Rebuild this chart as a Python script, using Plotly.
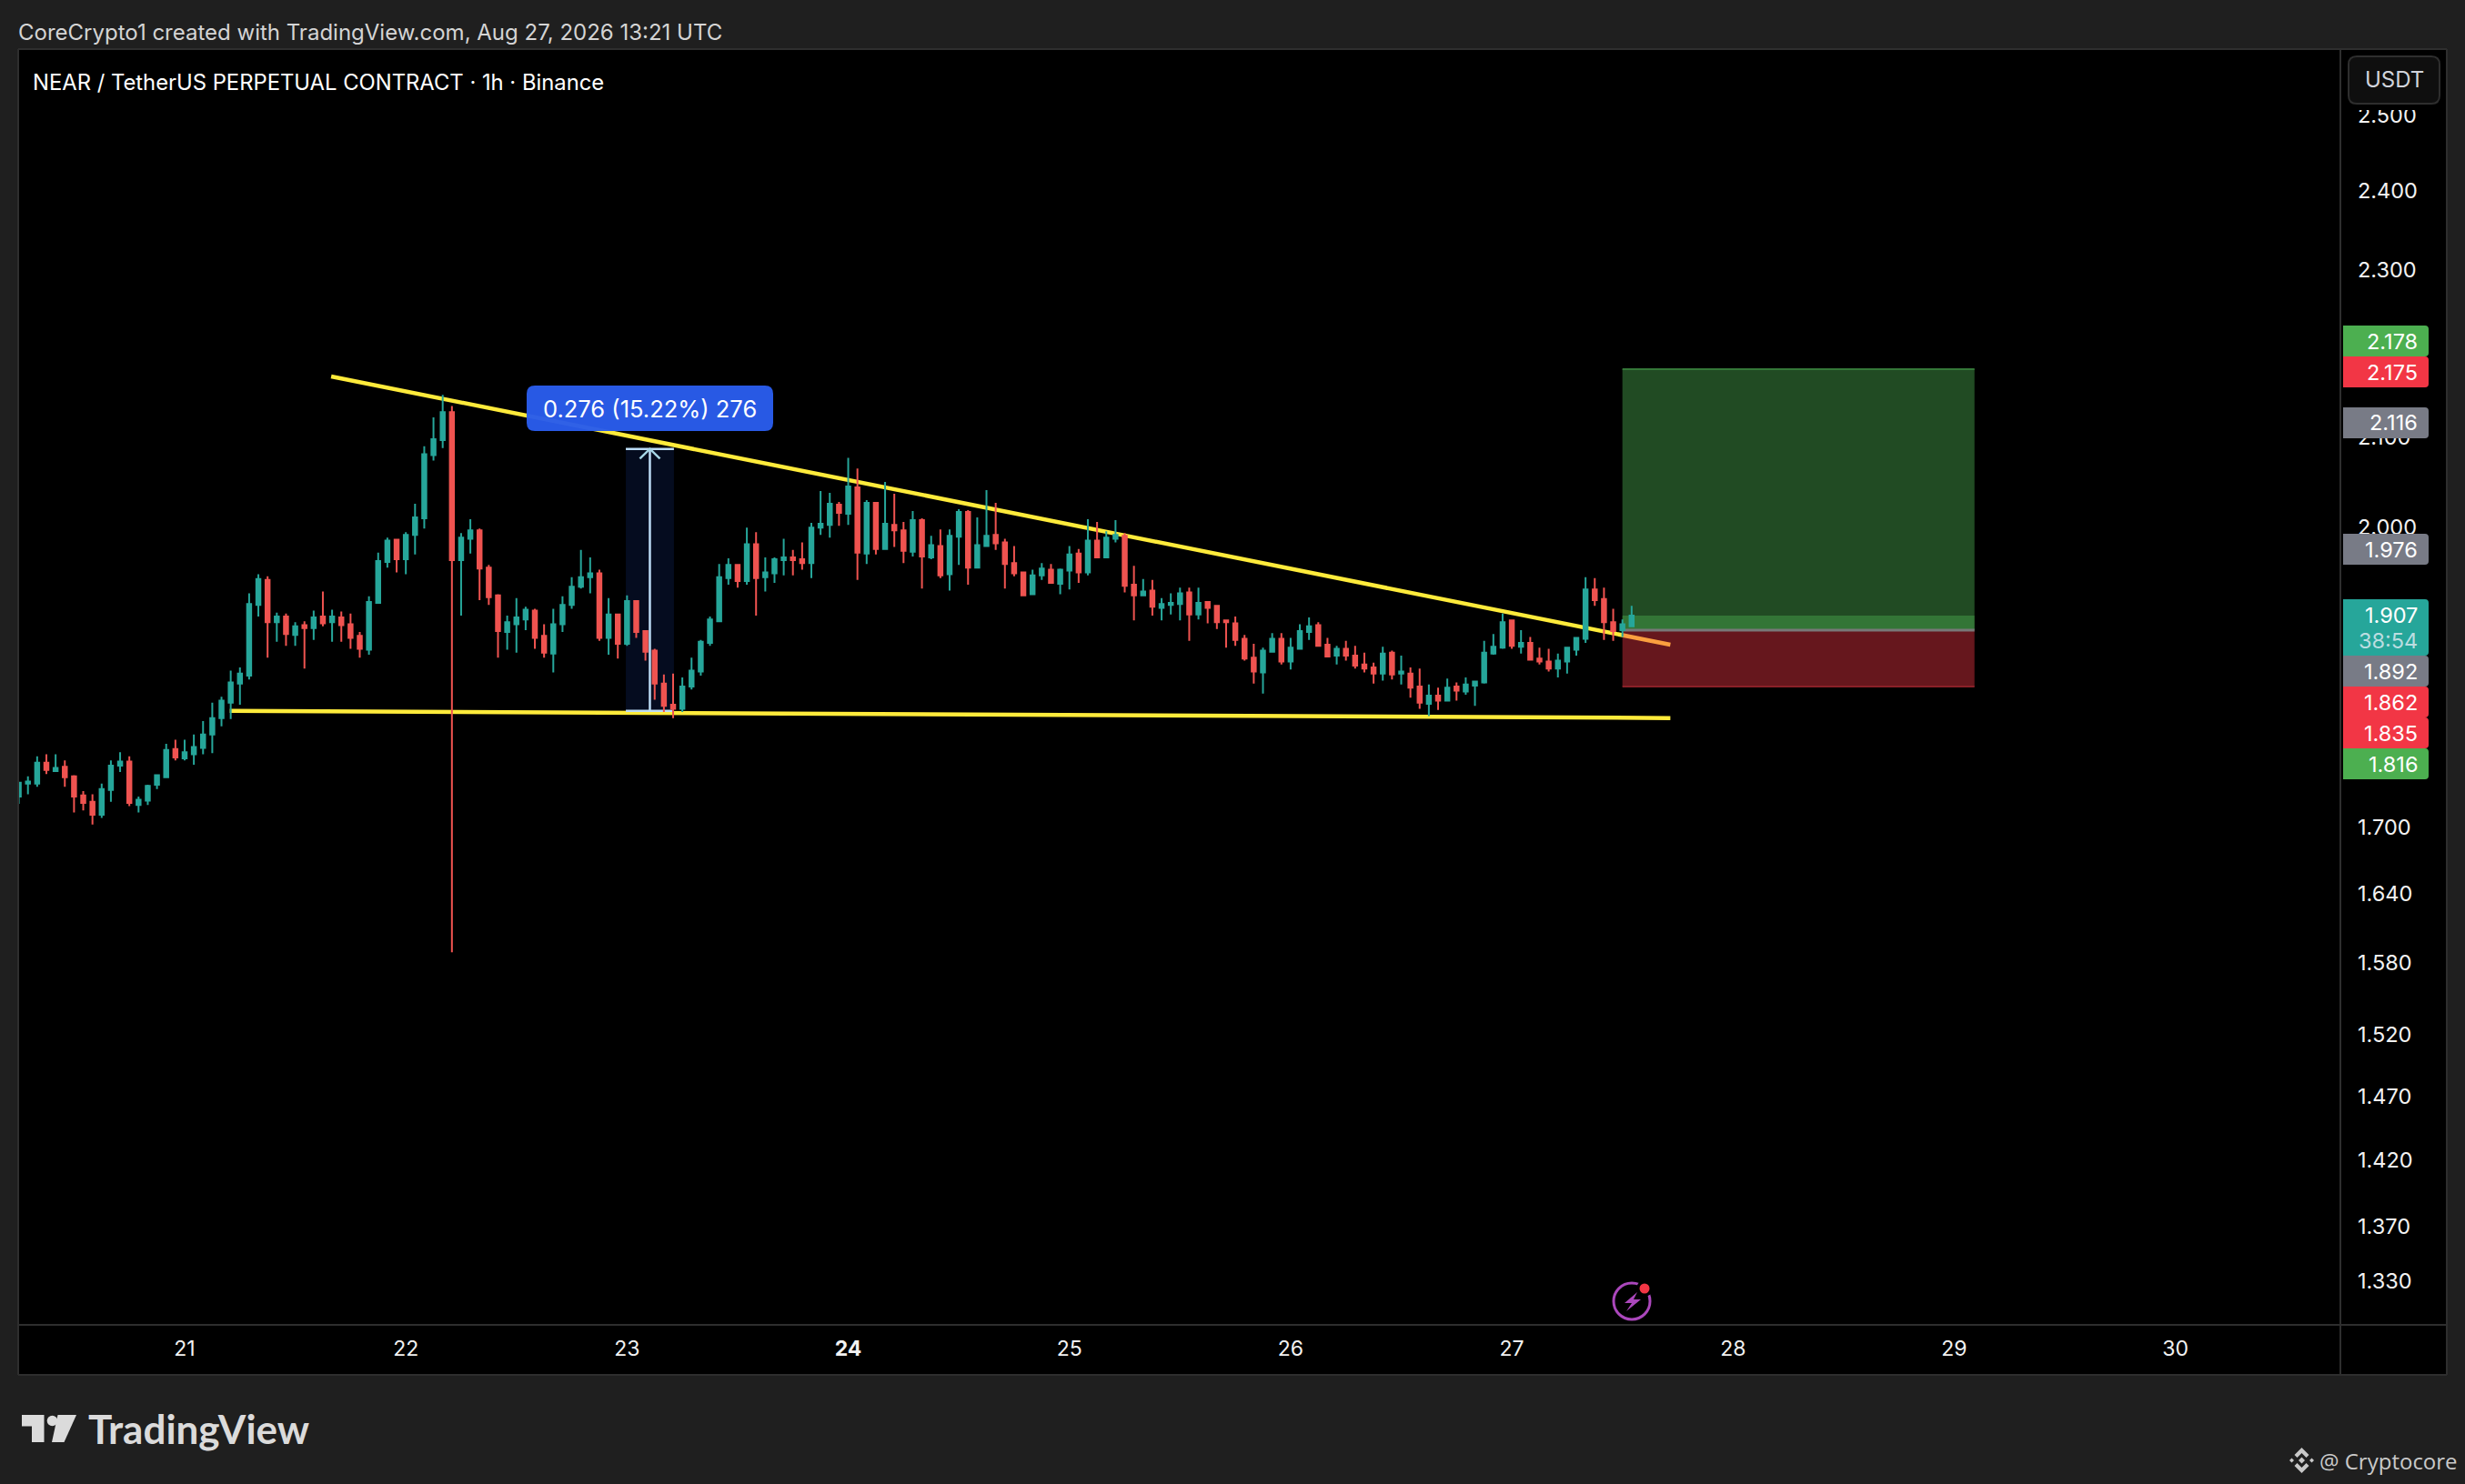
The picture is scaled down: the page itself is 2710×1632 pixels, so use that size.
import math
import pandas as pd
import plotly.graph_objects as go

W, H = 2710, 1632
L, R, T, B = 21, 2573, 55, 1456

# --- chart values -----------------------------------------------------------
FIRST_HOUR = -18   # hours relative to Aug 21 00:00
opens = [1.729,1.741,1.741,1.761,1.753,1.757,1.748,1.730,1.724,1.712,1.735,1.758,1.762,1.721,1.725,1.740,1.747,1.774,
 1.765,1.769,1.775,1.788,1.804,1.819,1.838,1.846,1.918,1.944,1.900,1.906,1.887,1.897,1.894,1.906,1.900,1.905,1.898,1.886,1.872,1.920,1.963,1.987,1.966,1.992,2.010,2.080,2.097,2.129,
 1.965,1.988,1.997,1.957,1.928,1.890,1.898,1.903,1.912,1.886,1.868,1.898,1.918,1.937,1.947,1.951,1.884,1.908,1.878,
 1.922,1.891,1.871,1.838,1.817,1.813,1.835,1.850,1.879,1.901,1.946,1.960,1.943,1.982,1.947,1.951,1.965,1.968,1.966,1.962,2.000,2.003,2.025,2.015,2.044,1.972,2.027,1.977,2.003,1.997,1.974,2.008,1.968,1.980,1.950,1.990,2.017,1.957,1.980,1.992,1.984,1.962,1.952,1.929,1.949,1.955,1.940,1.954,1.972,1.952,1.986,1.968,1.988,1.991,1.939,1.928,1.933,1.915,1.918,1.919,
 1.931,1.908,1.921,1.917,1.902,1.899,1.883,1.864,1.849,1.870,1.883,1.860,1.873,1.890,1.897,1.877,1.866,1.873,1.866,1.857,1.854,1.848,1.869,1.848,1.848,1.835,1.818,1.826,1.821,1.835,1.830,1.836,1.839,1.868,1.874,1.902,1.875,1.879,1.863,1.860,1.853,1.860,1.872,1.883,1.934,1.924,1.900,1.892,1.896]
highs = [1.742,1.748,1.767,1.769,1.769,1.763,1.749,1.734,1.731,1.741,1.763,1.771,1.767,1.729,1.740,1.749,1.779,1.783,
 1.783,1.788,1.801,1.819,1.825,1.851,1.854,1.930,1.950,1.948,1.910,1.909,1.900,1.901,1.912,1.932,1.913,1.911,1.909,1.890,1.927,1.973,1.989,1.988,1.995,2.026,2.090,2.123,2.149,2.136,
 1.994,2.009,1.999,1.960,1.929,1.907,1.925,1.916,1.914,1.898,1.914,1.927,1.947,1.976,1.968,1.955,1.925,1.909,1.928,
 1.922,1.891,1.873,1.847,1.848,1.844,1.864,1.882,1.906,1.961,1.967,1.961,2.000,1.995,1.968,1.968,1.988,1.976,1.984,2.005,2.040,2.038,2.028,2.077,2.065,2.030,2.027,2.050,2.037,2.006,2.018,2.010,1.991,1.998,1.998,2.020,2.019,2.011,2.041,2.027,1.988,1.980,1.952,1.955,1.962,1.961,1.956,1.980,1.977,2.009,2.006,1.996,2.008,1.994,1.959,1.945,1.944,1.925,1.930,1.936,
 1.936,1.936,1.922,1.917,1.903,1.906,1.887,1.878,1.874,1.889,1.889,1.884,1.898,1.905,1.900,1.884,1.876,1.881,1.876,1.869,1.859,1.875,1.871,1.866,1.854,1.853,1.837,1.834,1.843,1.839,1.844,1.841,1.881,1.888,1.909,1.902,1.892,1.885,1.874,1.873,1.868,1.875,1.885,1.947,1.946,1.936,1.914,1.903,1.917]
lows = [1.722,1.731,1.738,1.750,1.753,1.738,1.714,1.716,1.703,1.709,1.724,1.752,1.720,1.714,1.721,1.736,1.747,1.763,
 1.763,1.759,1.769,1.770,1.796,1.803,1.817,1.842,1.906,1.864,1.880,1.876,1.876,1.853,1.882,1.896,1.880,1.880,1.873,1.864,1.867,1.920,1.957,1.952,1.950,1.971,1.999,2.074,2.088,1.589,
 1.907,1.972,1.923,1.918,1.864,1.872,1.869,1.892,1.873,1.864,1.849,1.890,1.914,1.935,1.930,1.881,1.867,1.863,1.876,
 1.884,1.861,1.822,1.810,1.804,1.810,1.832,1.846,1.876,1.901,1.939,1.936,1.939,1.907,1.932,1.941,1.949,1.949,1.955,1.946,1.992,1.989,2.002,2.003,1.944,1.961,1.971,1.977,1.979,1.962,1.969,1.935,1.966,1.946,1.933,1.960,1.939,1.956,1.980,1.976,1.935,1.948,1.927,1.929,1.944,1.940,1.929,1.934,1.941,1.949,1.967,1.967,1.984,1.931,1.902,1.927,1.907,1.902,1.908,1.902,
 1.881,1.903,1.899,1.893,1.874,1.876,1.861,1.838,1.828,1.870,1.857,1.852,1.873,1.882,1.876,1.865,1.857,1.861,1.853,1.849,1.838,1.841,1.842,1.837,1.824,1.813,1.806,1.812,1.821,1.821,1.827,1.816,1.838,1.867,1.873,1.873,1.868,1.861,1.857,1.850,1.844,1.848,1.866,1.879,1.917,1.882,1.881,1.885,1.895]
closes = [1.742,1.743,1.761,1.754,1.756,1.747,1.729,1.723,1.712,1.736,1.758,1.762,1.723,1.726,1.739,1.749,1.773,1.766,
 1.771,1.776,1.788,1.804,1.821,1.839,1.848,1.919,1.945,1.900,1.906,1.888,1.896,1.894,1.905,1.899,1.906,1.897,1.884,1.873,1.921,1.964,1.986,1.966,1.992,2.011,2.081,2.098,2.129,1.965,
 1.989,1.997,1.956,1.926,1.891,1.900,1.905,1.913,1.884,1.869,1.898,1.918,1.937,1.947,1.951,1.884,1.908,1.878,1.922,
 1.890,1.870,1.838,1.816,1.813,1.835,1.851,1.880,1.903,1.947,1.960,1.943,1.982,1.946,1.952,1.966,1.968,1.965,1.962,2.000,2.004,2.026,2.016,2.045,1.973,2.027,1.977,2.004,1.997,1.975,2.008,1.969,1.981,1.949,1.991,2.017,1.957,1.981,1.991,1.983,1.961,1.951,1.928,1.949,1.956,1.941,1.955,1.971,1.952,1.986,1.968,1.989,1.992,1.938,1.928,1.932,1.916,1.919,1.920,1.930,
 1.908,1.920,1.915,1.900,1.900,1.882,1.863,1.850,1.871,1.883,1.860,1.874,1.891,1.896,1.876,1.865,1.873,1.866,1.856,1.853,1.848,1.868,1.847,1.850,1.834,1.819,1.826,1.821,1.834,1.831,1.837,1.840,1.869,1.875,1.900,1.876,1.879,1.862,1.860,1.853,1.861,1.874,1.884,1.934,1.923,1.900,1.891,1.898,1.907]

y_tick_values = [1.33,1.37,1.42,1.47,1.52,1.58,1.64,1.70,2.0,2.1,2.3,2.4,2.5]
day_tick_numbers = [21,22,23,24,25,26,27,28,29,30]

down_line_hours = [15.9, 161.2]
down_line_prices = [2.1706, 1.877]
flat_line_hours = [4.9, 161.2]
flat_line_prices = [1.811, 1.804]

measure_hours = [47.87, 53.09]
measure_low, measure_high = 1.811, 2.087
position_hours = [156.0, 194.2]
target, last, entry, stop = 2.179, 1.907, 1.892, 1.835

Y_MIN, Y_MAX = 1.2994, 2.5902
X_MIN_H, X_MAX_H = -17.96, 233.9

FONT = "Inter"
TEAL, RED = "#26a69a", "#ef5350"
YELLOW = "#ffeb3b"
PANEL = "#1f1f1f"
EDGE = "#2e2e2e"
TEXT = "#f2f2f2"

base = pd.Timestamp("2026-08-21 00:00")
def t(h):
    return base + pd.Timedelta(hours=h)
def fx(px):
    return (px - L) / (R - L)
def fy(py):
    return (B - py) / (B - T)

hours = [FIRST_HOUR + k for k in range(len(opens))]
times = [t(h) for h in hours]

fig = go.Figure()

def area(h0, h1, p0, p1, color):
    fig.add_trace(go.Scatter(x=[t(h0), t(h1), t(h1), t(h0), t(h0)], y=[p0, p0, p1, p1, p0],
                             mode="lines", line=dict(width=0, color=color), fill="toself",
                             fillcolor=color, hoverinfo="skip", zorder=-1))
def seg(hs, ps, color, width, dash="solid"):
    fig.add_trace(go.Scatter(x=[t(h) for h in hs], y=ps, mode="lines",
                             line=dict(color=color, width=width, dash=dash),
                             hoverinfo="skip", zorder=-1))

# trend lines
seg(down_line_hours, down_line_prices, YELLOW, 4.5)
seg(flat_line_hours, flat_line_prices, YELLOW, 4.5)

# measure tool
area(measure_hours[0], measure_hours[1], measure_low, measure_high, "rgba(41,98,255,0.12)")
MEASURE = "#bcdcf5"
seg(measure_hours, [measure_high, measure_high], MEASURE, 2.5)
seg(measure_hours, [measure_low, measure_low], MEASURE, 2.5)
mid = (measure_hours[0] + measure_hours[1]) / 2
seg([mid, mid], [measure_low, measure_high], MEASURE, 2.5)
seg([mid - 1.09, mid, mid + 1.09], [2.076, measure_high, 2.076], "#a6d6e6", 2.5)

# position tool
GREENFILL = "rgba(76,175,80,0.43)"
REDFILL = "rgba(244,54,69,0.42)"
area(position_hours[0], position_hours[1], entry, target, GREENFILL)
area(position_hours[0], position_hours[1], entry, last, GREENFILL)
area(position_hours[0], position_hours[1], stop, entry, REDFILL)
seg(position_hours, [target, target], "#347738", 2)
seg(position_hours, [entry, entry], "#787878", 3)
seg(position_hours, [stop, stop], "#8a2028", 2)

fig.add_trace(go.Candlestick(
    x=times, open=opens, high=highs, low=lows, close=closes,
    increasing=dict(line=dict(color=TEAL, width=2), fillcolor=TEAL),
    decreasing=dict(line=dict(color=RED, width=2), fillcolor=RED),
    whiskerwidth=0, hoverinfo="skip"))

shapes, annos = [], []

def rect(x0, y0, x1, y1, fill, line=None, lw=0, layer="above"):
    shapes.append(dict(type="rect", xref="paper", yref="paper", x0=fx(x0), x1=fx(x1), y0=fy(y1), y1=fy(y0),
                       fillcolor=fill, line=dict(color=line or fill, width=lw), layer=layer))
def hline(x0, x1, y, color=EDGE, lw=2, layer="above"):
    shapes.append(dict(type="line", xref="paper", yref="paper", x0=fx(x0), x1=fx(x1), y0=fy(y), y1=fy(y),
                       line=dict(color=color, width=lw), layer=layer))
def vline(x, y0, y1, color=EDGE, lw=2, layer="above"):
    shapes.append(dict(type="line", xref="paper", yref="paper", x0=fx(x), x1=fx(x), y0=fy(y0), y1=fy(y1),
                       line=dict(color=color, width=lw), layer=layer))
def poly(points, fill, layer="above"):
    d = "M " + " L ".join(f"{fx(x):.6f},{fy(y):.6f}" for x, y in points) + " Z"
    shapes.append(dict(type="path", xref="paper", yref="paper", path=d, fillcolor=fill, line=dict(width=0), layer=layer))
def rounded(x0, y0, x1, y1, r, fill, line=None, lw=0, left=True):
    rl = r if left else 0
    d = (f"M {fx(x0+rl):.6f},{fy(y0):.6f} L {fx(x1-r):.6f},{fy(y0):.6f} "
         f"Q {fx(x1):.6f},{fy(y0):.6f} {fx(x1):.6f},{fy(y0+r):.6f} L {fx(x1):.6f},{fy(y1-r):.6f} "
         f"Q {fx(x1):.6f},{fy(y1):.6f} {fx(x1-r):.6f},{fy(y1):.6f} L {fx(x0+rl):.6f},{fy(y1):.6f} "
         f"Q {fx(x0):.6f},{fy(y1):.6f} {fx(x0):.6f},{fy(y1-rl):.6f} L {fx(x0):.6f},{fy(y0+rl):.6f} "
         f"Q {fx(x0):.6f},{fy(y0):.6f} {fx(x0+rl):.6f},{fy(y0):.6f} Z")
    shapes.append(dict(type="path", xref="paper", yref="paper", path=d, fillcolor=fill,
                       line=dict(color=line or fill, width=lw), layer="above"))
def circle(cx, cy, r, fill="rgba(0,0,0,0)", line=None, lw=0):
    shapes.append(dict(type="circle", xref="paper", yref="paper", x0=fx(cx-r), x1=fx(cx+r), y0=fy(cy+r), y1=fy(cy-r),
                       fillcolor=fill, line=dict(color=line or fill, width=lw), layer="above"))
def text(x, y, s, size, color=TEXT, anchor="left", family=FONT, weight=None):
    f = dict(family=family, size=size, color=color)
    if weight:
        f["weight"] = weight
    annos.append(dict(text=s, x=fx(x), y=fy(y), xref="paper", yref="paper", xanchor=anchor, yanchor="middle",
                      showarrow=False, font=f, borderpad=0, borderwidth=0))

# chart panel and frame
rect(20, 54, 2690, 1512, "#000000", layer="below")
vline(2573, 54, 1512, layer="below")
hline(20, 2690, 1457, layer="below")
for a in [(20, 2690, 54), (20, 2690, 1512)]:
    hline(*a, layer="below")
for x in (20, 2690):
    vline(x, 54, 1512, layer="below")

# currency button, masking the top of the price scale
rect(2575, 56, 2688, 121, "#000000")
rounded(2582, 62, 2682, 114, 9, "#0f0f0f", EDGE, 2)
text(2632, 88, "USDT", 24, "#d1d4dc", "center")

# price scale labels
GREEN_L, RED_L, GREY_L = "#4caf50", "#f23645", "#787b86"
side_labels = [("2.178", GREEN_L, 375), ("2.175", RED_L, 409), ("2.116", GREY_L, 465), ("1.976", GREY_L, 604),
               ("1.892", GREY_L, 738), ("1.862", RED_L, 772), ("1.835", RED_L, 806), ("1.816", GREEN_L, 840)]
for s, c, y in side_labels:
    rounded(2576, y - 17, 2670, y + 17, 4, c, left=False)
    text(2658, y, s, 23.5, "#ffffff", "right")
rounded(2576, 659, 2670, 721, 4, TEAL, left=False)
text(2658, 677, "1.907", 23.5, "#ffffff", "right")
text(2658, 704, "38:54", 23.5, "#bcdde0", "right")

# measure label
rounded(579, 424, 850, 474, 9, "rgba(41,92,235,0.97)")
text(714.5, 449, "0.276 (15.22%) 276", 25.5, "#ffffff", "center")

# headers
text(20, 35, "CoreCrypto1 created with TradingView.com, Aug 27, 2026 13:21 UTC", 24, "#d4d4d4")
text(36, 90, "NEAR / TetherUS PERPETUAL CONTRACT · 1h · Binance", 23.8, "#ffffff")

# TradingView logo
LOGO = "#dbdbdb"
poly([(24, 1556), (48.5, 1556), (48.5, 1586), (35, 1586), (35, 1568.5), (24, 1568.5)], LOGO)
circle(57.5, 1562.5, 5.8, LOGO)
poly([(63.5, 1556), (84, 1556), (70.5, 1586), (57, 1586)], LOGO)
text(97, 1571, "TradingView", 44, LOGO, "left", "Lato", 700)

# lightning badge
PURPLE = "#ab47bc"
circle(1794, 1431, 20, "rgba(0,0,0,0)", PURPLE, 3)
circle(1808, 1417, 9, "#000000")
circle(1808, 1417, 5.5, "#f23645")
poly([(1800, 1421), (1786, 1433), (1794, 1433), (1788, 1442), (1804, 1429), (1796, 1429)], PURPLE)

# author stamp
CX, CY = 2530.5, 1606
STAMP = "#c9c9c9"
def d(points):
    poly([(CX + a, CY + b) for a, b in points], STAMP)
d([(0, -3.5), (3.5, 0), (0, 3.5), (-3.5, 0)])
d([(-11, -2.5), (-8.5, 0), (-11, 2.5), (-13.5, 0)])
d([(11, -2.5), (13.5, 0), (11, 2.5), (8.5, 0)])
d([(0, -14), (8, -6), (5, -3), (0, -8), (-5, -3), (-8, -6)])
d([(0, 14), (8, 6), (5, 3), (0, 8), (-5, 3), (-8, 6)])
text(2702, 1606, "@ Cryptocore", 24, STAMP, "right", "Open Sans")

fig.update_layout(
    width=W, height=H, autosize=False,
    margin=dict(l=L, r=W - R, t=T, b=H - B, pad=0, autoexpand=False),
    paper_bgcolor=PANEL, plot_bgcolor="#000000",
    showlegend=False, shapes=shapes, annotations=annos, boxgap=0.37,
    font=dict(family=FONT, color=TEXT),
    xaxis=dict(type="date", range=[t(X_MIN_H), t(X_MAX_H)], rangeslider=dict(visible=False),
               showgrid=False, zeroline=False, showline=False, ticks="",
               tickmode="array", tickvals=[pd.Timestamp(2026, 8, n) for n in day_tick_numbers],
               ticktext=[f"<b>{n}</b>" if n == 24 else str(n) for n in day_tick_numbers],
               tickangle=0, tickfont=dict(family=FONT, size=23, color=TEXT), ticklabelstandoff=11, automargin=False),
    yaxis=dict(type="log", side="right", range=[math.log10(Y_MIN), math.log10(Y_MAX)],
               showgrid=False, zeroline=False, showline=False, ticks="",
               tickmode="array", tickvals=y_tick_values, ticktext=[f"{v:.3f}" for v in y_tick_values],
               tickfont=dict(family=FONT, size=23.5, color=TEXT), ticklabelstandoff=18, automargin=False),
)

fig.write_html("out.html", config=dict(displayModeBar=False, responsive=False),
               post_script="document.body.style.margin='0';document.body.style.background='#1f1f1f';")
